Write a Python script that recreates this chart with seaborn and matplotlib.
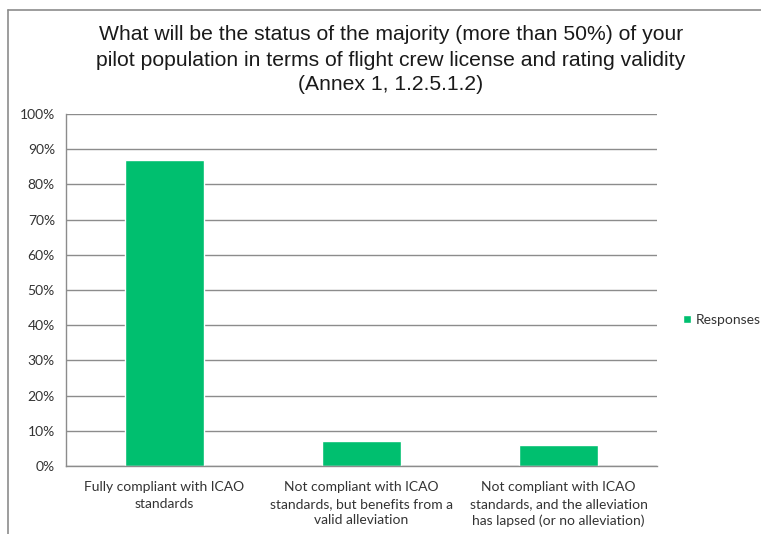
import matplotlib
matplotlib.use("Agg")
import matplotlib.pyplot as plt
import matplotlib.ticker as mticker
from matplotlib.lines import Line2D
import seaborn as sns
import pandas as pd

categories = [
    "Fully compliant with ICAO\nstandards",
    "Not compliant with ICAO\nstandards, but benefits from a\nvalid alleviation",
    "Not compliant with ICAO\nstandards, and the alleviation\nhas lapsed (or no alleviation)",
]
responses = [0.87, 0.07, 0.06]
series_name = "Responses"
title = ("What will be the status of the majority (more than 50%) of your\n"
         "pilot population in terms of flight crew license and rating validity\n"
         "(Annex 1, 1.2.5.1.2)")

df = pd.DataFrame({"category": categories, "value": responses, "series": series_name})

sns.set_style("white")
plt.rcParams["font.family"] = ["Lato", "DejaVu Sans"]

W, H = 761, 534
fig = plt.figure(figsize=(W / 100, H / 100), dpi=100)
ax = fig.add_axes([66 / W, 1 - 466 / H, (657 - 66) / W, (466 - 114) / H])

green = "#00BF6F"
sns.barplot(data=df, x="category", y="value", hue="series", palette=[green],
            width=0.4, ax=ax, saturation=1, legend=True)

ax.set_ylim(0, 1.0)
ax.set_xlim(-0.5, 2.5)
ax.yaxis.set_major_locator(mticker.MultipleLocator(0.1))
ax.yaxis.set_major_formatter(mticker.PercentFormatter(1.0, decimals=0))
ax.grid(axis="y", color="#8c8c8c", linewidth=1.0)
ax.set_axisbelow(True)
ax.set_xlabel("")
ax.set_ylabel("")

for side in ["top", "right"]:
    ax.spines[side].set_visible(False)
for side in ["left", "bottom"]:
    ax.spines[side].set_color("#8c8c8c")
    ax.spines[side].set_linewidth(1.0)

ax.tick_params(axis="y", length=5, color="#8c8c8c", labelsize=10, labelcolor="#333333", pad=3)
ax.tick_params(axis="x", which="major", length=0, labelsize=10, labelcolor="#333333", pad=11)
ax.set_xticks([-0.5, 0.5, 1.5, 2.5], minor=True)
ax.tick_params(axis="x", which="minor", length=5, color="#8c8c8c")
for lbl in ax.get_xticklabels():
    lbl.set_multialignment("center")
    lbl.set_linespacing(1.45)

leg = ax.legend(loc="center left", bbox_to_anchor=(683 / W, 1 - 320 / H),
                bbox_transform=fig.transFigure, frameon=False, fontsize=10,
                borderpad=0, borderaxespad=0,
                handlelength=0.55, handleheight=0.55, handletextpad=0.35)
for t in leg.get_texts():
    t.set_color("#333333")

fig.text(391 / W, 1 - 60 / H, title, ha="center", va="center", fontsize=15.2,
         family=["Liberation Sans", "DejaVu Sans"], color="#1a1a1a", linespacing=1.4)

# outer chart frame
fig.add_artist(Line2D([8 / W, 8 / W], [0, 1 - 10 / H], transform=fig.transFigure,
                      color="#8c8c8c", linewidth=1.2))
fig.add_artist(Line2D([8 / W, 1], [1 - 10 / H, 1 - 10 / H], transform=fig.transFigure,
                      color="#8c8c8c", linewidth=1.2))

fig.savefig("out.png", dpi=100)
